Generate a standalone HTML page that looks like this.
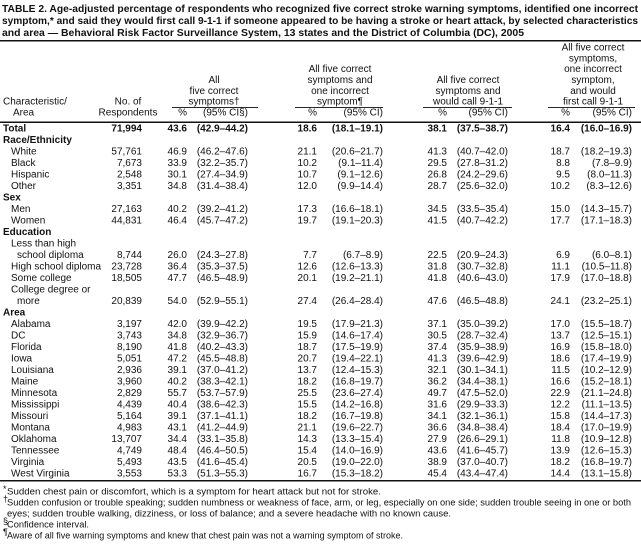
<!DOCTYPE html>
<html><head><meta charset="utf-8"><style>
html,body{margin:0;padding:0;background:#fff;}
svg{display:block;font-family:"Liberation Sans",Arial,sans-serif;}
text{fill:#111;font-size:10px;}
.e{text-anchor:end}.m{text-anchor:middle}
.b{font-weight:bold}
.t{font-size:10.5px;font-weight:bold}
.f{font-size:9px}
</style></head><body>
<svg width="641" height="545" viewBox="0 0 641 545">
<text class="t" x="2" y="12" textLength="636" lengthAdjust="spacingAndGlyphs">TABLE 2. Age-adjusted percentage of respondents who recognized five correct stroke warning symptoms, identified one incorrect</text>
<text class="t" x="2" y="24" textLength="636" lengthAdjust="spacingAndGlyphs">symptom,* and said they would first call 9-1-1 if someone appeared to be having a stroke or heart attack, by selected characteristics</text>
<text class="t" x="2" y="36" textLength="522" lengthAdjust="spacingAndGlyphs">and area — Behavioral Risk Factor Surveillance System, 13 states and the District of Columbia (DC), 2005</text>
<rect x="0" y="40" width="641" height="1.5" fill="#111"/>
<!-- headers -->
<text class="m" x="593" y="50.5">All five correct</text>
<text class="m" x="593" y="61.5">symptoms,</text>
<text class="m" x="593" y="72">one incorrect</text>
<text class="m" x="593" y="83">symptom,</text>
<text class="m" x="593" y="94">and would</text>
<text class="m" x="593" y="104.5">first call 9-1-1</text>
<text class="m" x="468" y="83">All five correct</text>
<text class="m" x="468" y="94">symptoms and</text>
<text class="m" x="468" y="104.5">would call 9-1-1</text>
<text class="m" x="340" y="72">All five correct</text>
<text class="m" x="340" y="83">symptoms and</text>
<text class="m" x="340" y="94">one incorrect</text>
<text class="m" x="340" y="104.5">symptom¶</text>
<text class="m" x="214" y="83">All</text>
<text class="m" x="214" y="94">five correct</text>
<text class="m" x="214" y="104.5">symptoms†</text>
<text x="3" y="104.5">Characteristic/</text>
<text x="13" y="115.5">Area</text>
<text class="m" x="128" y="104.5">No. of</text>
<text class="m" x="128" y="115.5">Respondents</text>
<rect x="172" y="107" width="86" height="0.9" fill="#111"/>
<rect x="295" y="107" width="88" height="0.9" fill="#111"/>
<rect x="423" y="107" width="89" height="0.9" fill="#111"/>
<rect x="548" y="107" width="87" height="0.9" fill="#111"/>
<text class="e" x="187" y="115.5">%</text><text class="e" x="248" y="115.5">(95% CI§)</text>
<text class="e" x="317" y="115.5">%</text><text class="e" x="383" y="115.5">(95% CI)</text>
<text class="e" x="447" y="115.5">%</text><text class="e" x="508" y="115.5">(95% CI)</text>
<text class="e" x="570" y="115.5">%</text><text class="e" x="632" y="115.5">(95% CI)</text>
<rect x="0" y="121.5" width="641" height="1.5" fill="#111"/>

<g class="b"><text x="3" y="131.5">Total</text><text class="e" x="142" y="131.5">71,994</text><text class="e" x="187" y="131.5">43.6</text><text class="e" x="248" y="131.5">(42.9–44.2)</text><text class="e" x="317" y="131.5">18.6</text><text class="e" x="383" y="131.5">(18.1–19.1)</text><text class="e" x="447" y="131.5">38.1</text><text class="e" x="508" y="131.5">(37.5–38.7)</text><text class="e" x="570" y="131.5">16.4</text><text class="e" x="632" y="131.5">(16.0–16.9)</text></g>
<text class="b" x="3" y="143">Race/Ethnicity</text>
<g transform="translate(0,154.5)"><text x="11">White</text><text class="e" x="142">57,761</text><text class="e" x="187">46.9</text><text class="e" x="248">(46.2–47.6)</text><text class="e" x="317">21.1</text><text class="e" x="383">(20.6–21.7)</text><text class="e" x="447">41.3</text><text class="e" x="508">(40.7–42.0)</text><text class="e" x="570">18.7</text><text class="e" x="632">(18.2–19.3)</text></g>
<g transform="translate(0,166)"><text x="11">Black</text><text class="e" x="142">7,673</text><text class="e" x="187">33.9</text><text class="e" x="248">(32.2–35.7)</text><text class="e" x="317">10.2</text><text class="e" x="383">(9.1–11.4)</text><text class="e" x="447">29.5</text><text class="e" x="508">(27.8–31.2)</text><text class="e" x="570">8.8</text><text class="e" x="632">(7.8–9.9)</text></g>
<g transform="translate(0,177.5)"><text x="11">Hispanic</text><text class="e" x="142">2,548</text><text class="e" x="187">30.1</text><text class="e" x="248">(27.4–34.9)</text><text class="e" x="317">10.7</text><text class="e" x="383">(9.1–12.6)</text><text class="e" x="447">26.8</text><text class="e" x="508">(24.2–29.6)</text><text class="e" x="570">9.5</text><text class="e" x="632">(8.0–11.3)</text></g>
<g transform="translate(0,189)"><text x="11">Other</text><text class="e" x="142">3,351</text><text class="e" x="187">34.8</text><text class="e" x="248">(31.4–38.4)</text><text class="e" x="317">12.0</text><text class="e" x="383">(9.9–14.4)</text><text class="e" x="447">28.7</text><text class="e" x="508">(25.6–32.0)</text><text class="e" x="570">10.2</text><text class="e" x="632">(8.3–12.6)</text></g>
<text class="b" x="3" y="200.5">Sex</text>
<g transform="translate(0,212)"><text x="11">Men</text><text class="e" x="142">27,163</text><text class="e" x="187">40.2</text><text class="e" x="248">(39.2–41.2)</text><text class="e" x="317">17.3</text><text class="e" x="383">(16.6–18.1)</text><text class="e" x="447">34.5</text><text class="e" x="508">(33.5–35.4)</text><text class="e" x="570">15.0</text><text class="e" x="632">(14.3–15.7)</text></g>
<g transform="translate(0,223.5)"><text x="11">Women</text><text class="e" x="142">44,831</text><text class="e" x="187">46.4</text><text class="e" x="248">(45.7–47.2)</text><text class="e" x="317">19.7</text><text class="e" x="383">(19.1–20.3)</text><text class="e" x="447">41.5</text><text class="e" x="508">(40.7–42.2)</text><text class="e" x="570">17.7</text><text class="e" x="632">(17.1–18.3)</text></g>
<text class="b" x="3" y="235">Education</text>
<text x="11" y="246.5">Less than high</text>
<g transform="translate(0,258)"><text x="17">school diploma</text><text class="e" x="142">8,744</text><text class="e" x="187">26.0</text><text class="e" x="248">(24.3–27.8)</text><text class="e" x="317">7.7</text><text class="e" x="383">(6.7–8.9)</text><text class="e" x="447">22.5</text><text class="e" x="508">(20.9–24.3)</text><text class="e" x="570">6.9</text><text class="e" x="632">(6.0–8.1)</text></g>
<g transform="translate(0,269.5)"><text x="11">High school diploma</text><text class="e" x="142">23,728</text><text class="e" x="187">36.4</text><text class="e" x="248">(35.3–37.5)</text><text class="e" x="317">12.6</text><text class="e" x="383">(12.6–13.3)</text><text class="e" x="447">31.8</text><text class="e" x="508">(30.7–32.8)</text><text class="e" x="570">11.1</text><text class="e" x="632">(10.5–11.8)</text></g>
<g transform="translate(0,281)"><text x="11">Some college</text><text class="e" x="142">18,505</text><text class="e" x="187">47.7</text><text class="e" x="248">(46.5–48.9)</text><text class="e" x="317">20.1</text><text class="e" x="383">(19.2–21.1)</text><text class="e" x="447">41.8</text><text class="e" x="508">(40.6–43.0)</text><text class="e" x="570">17.9</text><text class="e" x="632">(17.0–18.8)</text></g>
<text x="11" y="292.5">College degree or</text>
<g transform="translate(0,304)"><text x="17">more</text><text class="e" x="142">20,839</text><text class="e" x="187">54.0</text><text class="e" x="248">(52.9–55.1)</text><text class="e" x="317">27.4</text><text class="e" x="383">(26.4–28.4)</text><text class="e" x="447">47.6</text><text class="e" x="508">(46.5–48.8)</text><text class="e" x="570">24.1</text><text class="e" x="632">(23.2–25.1)</text></g>
<text class="b" x="3" y="315.5">Area</text>
<g transform="translate(0,327)"><text x="11">Alabama</text><text class="e" x="142">3,197</text><text class="e" x="187">42.0</text><text class="e" x="248">(39.9–42.2)</text><text class="e" x="317">19.5</text><text class="e" x="383">(17.9–21.3)</text><text class="e" x="447">37.1</text><text class="e" x="508">(35.0–39.2)</text><text class="e" x="570">17.0</text><text class="e" x="632">(15.5–18.7)</text></g>
<g transform="translate(0,338.5)"><text x="11">DC</text><text class="e" x="142">3,743</text><text class="e" x="187">34.8</text><text class="e" x="248">(32.9–36.7)</text><text class="e" x="317">15.9</text><text class="e" x="383">(14.6–17.4)</text><text class="e" x="447">30.5</text><text class="e" x="508">(28.7–32.4)</text><text class="e" x="570">13.7</text><text class="e" x="632">(12.5–15.1)</text></g>
<g transform="translate(0,350)"><text x="11">Florida</text><text class="e" x="142">8,190</text><text class="e" x="187">41.8</text><text class="e" x="248">(40.2–43.3)</text><text class="e" x="317">18.7</text><text class="e" x="383">(17.5–19.9)</text><text class="e" x="447">37.4</text><text class="e" x="508">(35.9–38.9)</text><text class="e" x="570">16.9</text><text class="e" x="632">(15.8–18.0)</text></g>
<g transform="translate(0,361.5)"><text x="11">Iowa</text><text class="e" x="142">5,051</text><text class="e" x="187">47.2</text><text class="e" x="248">(45.5–48.8)</text><text class="e" x="317">20.7</text><text class="e" x="383">(19.4–22.1)</text><text class="e" x="447">41.3</text><text class="e" x="508">(39.6–42.9)</text><text class="e" x="570">18.6</text><text class="e" x="632">(17.4–19.9)</text></g>
<g transform="translate(0,373)"><text x="11">Louisiana</text><text class="e" x="142">2,936</text><text class="e" x="187">39.1</text><text class="e" x="248">(37.0–41.2)</text><text class="e" x="317">13.7</text><text class="e" x="383">(12.4–15.3)</text><text class="e" x="447">32.1</text><text class="e" x="508">(30.1–34.1)</text><text class="e" x="570">11.5</text><text class="e" x="632">(10.2–12.9)</text></g>
<g transform="translate(0,384.5)"><text x="11">Maine</text><text class="e" x="142">3,960</text><text class="e" x="187">40.2</text><text class="e" x="248">(38.3–42.1)</text><text class="e" x="317">18.2</text><text class="e" x="383">(16.8–19.7)</text><text class="e" x="447">36.2</text><text class="e" x="508">(34.4–38.1)</text><text class="e" x="570">16.6</text><text class="e" x="632">(15.2–18.1)</text></g>
<g transform="translate(0,396)"><text x="11">Minnesota</text><text class="e" x="142">2,829</text><text class="e" x="187">55.7</text><text class="e" x="248">(53.7–57.9)</text><text class="e" x="317">25.5</text><text class="e" x="383">(23.6–27.4)</text><text class="e" x="447">49.7</text><text class="e" x="508">(47.5–52.0)</text><text class="e" x="570">22.9</text><text class="e" x="632">(21.1–24.8)</text></g>
<g transform="translate(0,407.5)"><text x="11">Mississippi</text><text class="e" x="142">4,439</text><text class="e" x="187">40.4</text><text class="e" x="248">(38.6–42.3)</text><text class="e" x="317">15.5</text><text class="e" x="383">(14.2–16.8)</text><text class="e" x="447">31.6</text><text class="e" x="508">(29.9–33.3)</text><text class="e" x="570">12.2</text><text class="e" x="632">(11.1–13.5)</text></g>
<g transform="translate(0,419)"><text x="11">Missouri</text><text class="e" x="142">5,164</text><text class="e" x="187">39.1</text><text class="e" x="248">(37.1–41.1)</text><text class="e" x="317">18.2</text><text class="e" x="383">(16.7–19.8)</text><text class="e" x="447">34.1</text><text class="e" x="508">(32.1–36.1)</text><text class="e" x="570">15.8</text><text class="e" x="632">(14.4–17.3)</text></g>
<g transform="translate(0,430.5)"><text x="11">Montana</text><text class="e" x="142">4,983</text><text class="e" x="187">43.1</text><text class="e" x="248">(41.2–44.9)</text><text class="e" x="317">21.1</text><text class="e" x="383">(19.6–22.7)</text><text class="e" x="447">36.6</text><text class="e" x="508">(34.8–38.4)</text><text class="e" x="570">18.4</text><text class="e" x="632">(17.0–19.9)</text></g>
<g transform="translate(0,442)"><text x="11">Oklahoma</text><text class="e" x="142">13,707</text><text class="e" x="187">34.4</text><text class="e" x="248">(33.1–35.8)</text><text class="e" x="317">14.3</text><text class="e" x="383">(13.3–15.4)</text><text class="e" x="447">27.9</text><text class="e" x="508">(26.6–29.1)</text><text class="e" x="570">11.8</text><text class="e" x="632">(10.9–12.8)</text></g>
<g transform="translate(0,453.5)"><text x="11">Tennessee</text><text class="e" x="142">4,749</text><text class="e" x="187">48.4</text><text class="e" x="248">(46.4–50.5)</text><text class="e" x="317">15.4</text><text class="e" x="383">(14.0–16.9)</text><text class="e" x="447">43.6</text><text class="e" x="508">(41.6–45.7)</text><text class="e" x="570">13.9</text><text class="e" x="632">(12.6–15.3)</text></g>
<g transform="translate(0,465)"><text x="11">Virginia</text><text class="e" x="142">5,493</text><text class="e" x="187">43.5</text><text class="e" x="248">(41.6–45.4)</text><text class="e" x="317">20.5</text><text class="e" x="383">(19.0–22.0)</text><text class="e" x="447">38.9</text><text class="e" x="508">(37.0–40.7)</text><text class="e" x="570">18.2</text><text class="e" x="632">(16.8–19.7)</text></g>
<g transform="translate(0,476.5)"><text x="11">West Virginia</text><text class="e" x="142">3,553</text><text class="e" x="187">53.3</text><text class="e" x="248">(51.3–55.3)</text><text class="e" x="317">16.7</text><text class="e" x="383">(15.3–18.2)</text><text class="e" x="447">45.4</text><text class="e" x="508">(43.4–47.4)</text><text class="e" x="570">14.4</text><text class="e" x="632">(13.1–15.8)</text></g>
<rect x="0" y="480" width="641" height="1.5" fill="#111"/>
<text class="f" x="3" y="492" font-size="7">*</text>
<text class="f" x="7" y="494.5" textLength="374" lengthAdjust="spacingAndGlyphs">Sudden chest pain or discomfort, which is a symptom for heart attack but not for stroke.</text>
<text class="f" x="3" y="502" font-size="7">†</text>
<text class="f" x="7" y="505.5" textLength="624" lengthAdjust="spacingAndGlyphs">Sudden confusion or trouble speaking; sudden numbness or weakness of face, arm, or leg, especially on one side; sudden trouble seeing in one or both</text>
<text class="f" x="7" y="516.5" textLength="444" lengthAdjust="spacingAndGlyphs">eyes; sudden trouble walking, dizziness, or loss of balance; and a severe headache with no known cause.</text>
<text class="f" x="3" y="524" font-size="7">§</text>
<text class="f" x="7" y="527.5" textLength="82" lengthAdjust="spacingAndGlyphs">Confidence interval.</text>
<text class="f" x="3" y="535" font-size="7">¶</text>
<text class="f" x="7" y="538.5" textLength="396" lengthAdjust="spacingAndGlyphs">Aware of all five warning symptoms and knew that chest pain was not a warning symptom of stroke.</text>
</svg>
</body></html>
